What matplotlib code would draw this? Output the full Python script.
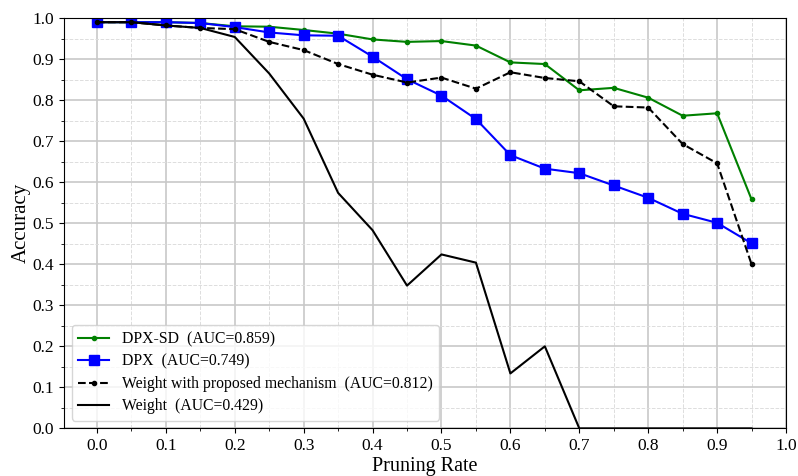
import numpy as np
import matplotlib
matplotlib.use("Agg")
import matplotlib.pyplot as plt
from matplotlib.ticker import MultipleLocator

plt.rcParams['font.family'] = ['Liberation Serif', 'DejaVu Serif']

rates = [0.0, 0.05, 0.1, 0.15, 0.2, 0.25, 0.3, 0.35, 0.4, 0.45,
         0.5, 0.55, 0.6, 0.65, 0.7, 0.75, 0.8, 0.85, 0.9, 0.95]

dpx_sd = [0.99, 0.99, 0.99, 0.988, 0.98, 0.979, 0.971, 0.962, 0.948, 0.942,
          0.944, 0.933, 0.892, 0.888, 0.824, 0.830, 0.806, 0.762, 0.768, 0.558]
dpx = [0.99, 0.99, 0.99, 0.988, 0.978, 0.965, 0.958, 0.957, 0.906, 0.851,
       0.811, 0.754, 0.666, 0.633, 0.622, 0.592, 0.562, 0.523, 0.501, 0.451]
weight_mech = [0.99, 0.99, 0.982, 0.976, 0.973, 0.942, 0.922, 0.888, 0.862, 0.843,
               0.855, 0.828, 0.868, 0.854, 0.846, 0.785, 0.782, 0.693, 0.646, 0.40]
weight = [0.99, 0.99, 0.982, 0.976, 0.954, 0.865, 0.755, 0.574, 0.483, 0.348,
          0.424, 0.404, 0.134, 0.200, 0.0, 0.0, 0.0, 0.0, 0.0, 0.0]

labels = ['DPX-SD  (AUC=0.859)', 'DPX  (AUC=0.749)',
          'Weight with proposed mechanism  (AUC=0.812)', 'Weight  (AUC=0.429)']

fig, ax = plt.subplots(figsize=(7.98, 4.76), dpi=100)
fig.subplots_adjust(left=0.08, right=0.985, top=0.962, bottom=0.1)

ax.plot(rates, dpx_sd, color='green', marker='o', markersize=3, lw=1.5, label=labels[0])
ax.plot(rates, dpx, color='blue', marker='s', markersize=7, lw=1.5, label=labels[1])
ax.plot(rates, weight_mech, color='black', ls='--', marker='o', markersize=3, lw=1.5, label=labels[2])
ax.plot(rates, weight, color='black', lw=1.5, label=labels[3])

ax.set_xlim(-0.048, 1.0)
ax.set_ylim(0.0, 1.0)
ax.xaxis.set_major_locator(MultipleLocator(0.1))
ax.xaxis.set_minor_locator(MultipleLocator(0.05))
ax.yaxis.set_major_locator(MultipleLocator(0.1))
ax.yaxis.set_minor_locator(MultipleLocator(0.05))
ax.grid(which='major', color='#c8c8c8', lw=1.2)
ax.grid(which='minor', color='#dddddd', ls='--', lw=0.7)
ax.set_axisbelow(True)
ax.tick_params(labelsize=12.5)

ax.set_xlabel('Pruning Rate', fontsize=14.5, labelpad=2)
ax.set_ylabel('Accuracy', fontsize=15, labelpad=1)
ax.legend(loc='lower left', fontsize=11.3, handlelength=2.0, labelspacing=0.4)

fig.savefig('out.png')
